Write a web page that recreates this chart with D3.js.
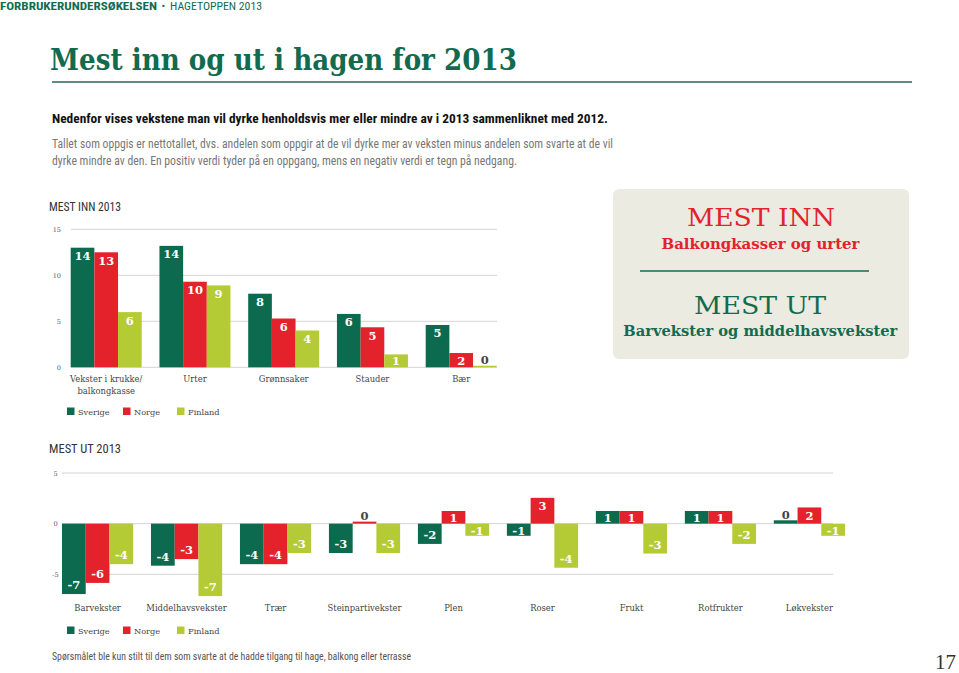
<!DOCTYPE html>
<html>
<head>
<meta charset="utf-8">
<script src="https://cdn.jsdelivr.net/npm/d3@7/dist/d3.min.js"></script>
<style>
html,body{margin:0;padding:0;background:#fff;}
svg{display:block;}
</style>
</head>
<body>
<svg id="chart" width="959" height="673"></svg>
<script>
// ---------- DATA ----------
const seriesNames = ["Sverige", "Norge", "Finland"];

const innCategories = [["Vekster i krukke/", "balkongkasse"], ["Urter"], ["Grønnsaker"], ["Stauder"], ["Bær"]];
const innSverige = [13.0, 13.2, 8.0, 5.8, 4.6];
const innNorge = [12.5, 9.3, 5.3, 4.35, 1.55];
const innFinland = [6.0, 8.9, 4.0, 1.4, 0.17];
const innSverigeLabels = [14, 14, 8, 6, 5];
const innNorgeLabels = [13, 10, 6, 5, 2];
const innFinlandLabels = [6, 9, 4, 1, 0];
const innTicks = [0, 5, 10, 15];

const utCategories = ["Barvekster", "Middelhavsvekster", "Trær", "Steinpartivekster", "Plen", "Roser", "Frukt", "Rotfrukter", "Løkvekster"];
const utSverige = [-6.95, -4.15, -4.0, -2.9, -2.0, -1.2, 1.25, 1.25, 0.33];
const utNorge = [-5.85, -3.5, -4.0, 0.2, 1.25, 2.55, 1.25, 1.25, 1.6];
const utFinland = [-4.0, -7.15, -2.9, -2.9, -1.2, -4.35, -2.95, -2.0, -1.2];
const utSverigeLabels = [-7, -4, -4, -3, -2, -1, 1, 1, 0];
const utNorgeLabels = [-6, -3, -4, 0, 1, 3, 1, 1, 2];
const utFinlandLabels = [-4, -7, -3, -3, -1, -4, -3, -2, -1];
const utTicks = [-5, 0, 5];

// ---------- STYLE ----------
const colors = {Sverige: "#0c6a4e", Norge: "#e3222b", Finland: "#b5cb35"};
const green = "#136b4f";
const sans = "'Liberation Sans Narrow', 'Roboto Condensed', Roboto, 'Liberation Sans', sans-serif";
const serif = "'DejaVu Serif', serif";

const svg = d3.select("#chart");

// ---------- HEADER ----------
const hdr = svg.append("text").attr("x", 0).attr("y", 10).attr("font-family", sans).attr("font-size", 11).attr("fill", green);
hdr.append("tspan").attr("font-weight", "bold").text("FORBRUKERUNDERSØKELSEN").attr("textLength", 157).attr("lengthAdjust", "spacingAndGlyphs");
hdr.append("tspan").attr("x", 159).text(" • ");
hdr.append("tspan").attr("x", 170).text("HAGETOPPEN 2013").attr("textLength", 92).attr("lengthAdjust", "spacingAndGlyphs");

svg.append("text").attr("x", 50).attr("y", 70)
  .attr("font-family", serif).attr("font-weight", "bold").attr("font-size", 29).attr("fill", green)
  .attr("textLength", 467).attr("lengthAdjust", "spacingAndGlyphs")
  .text("Mest inn og ut i hagen for 2013");

svg.append("line").attr("x1", 52).attr("x2", 912).attr("y1", 82).attr("y2", 82)
  .attr("stroke", "#5f8c82").attr("stroke-width", 2);

svg.append("text").attr("x", 52).attr("y", 122.5).attr("font-family", sans).attr("font-weight", "bold")
  .attr("font-size", 13).attr("fill", "#111").attr("textLength", 556).attr("lengthAdjust", "spacingAndGlyphs")
  .text("Nedenfor vises vekstene man vil dyrke henholdsvis mer eller mindre av i 2013 sammenliknet med 2012.");
svg.append("text").attr("x", 52).attr("y", 147.5).attr("font-family", sans)
  .attr("font-size", 13).attr("fill", "#777").attr("textLength", 561).attr("lengthAdjust", "spacingAndGlyphs")
  .text("Tallet som oppgis er nettotallet, dvs. andelen som oppgir at de vil dyrke mer av veksten minus andelen som svarte at de vil");
svg.append("text").attr("x", 52).attr("y", 164.5).attr("font-family", sans)
  .attr("font-size", 13).attr("fill", "#777").attr("textLength", 465).attr("lengthAdjust", "spacingAndGlyphs")
  .text("dyrke mindre av den. En positiv verdi tyder på en oppgang, mens en negativ verdi er tegn på nedgang.");

// ---------- CHART FUNCTION ----------
function drawChart(cfg) {
  const g = svg.append("g");
  g.append("text").attr("x", 49).attr("y", cfg.titleY).attr("font-family", sans)
    .attr("font-size", 12).attr("fill", "#333").attr("textLength", 72).attr("lengthAdjust", "spacingAndGlyphs")
    .text(cfg.title);

  const x0 = d3.scaleBand().domain(d3.range(cfg.categories.length)).range(cfg.xRange).paddingInner(0.2).paddingOuter(0);
  const x1 = d3.scaleBand().domain(seriesNames).range([0, x0.bandwidth()]);
  const y = d3.scaleLinear().domain(cfg.yDomain).range(cfg.yRange);

  // grid
  g.append("g").selectAll("line").data(cfg.ticks).join("line")
    .attr("x1", cfg.gridX[0]).attr("x2", cfg.gridX[1])
    .attr("y1", d => y(d)).attr("y2", d => y(d))
    .attr("stroke", "#d4d4d4").attr("stroke-width", 1);
  g.append("g").selectAll("text").data(cfg.ticks).join("text")
    .attr("x", cfg.tickX).attr("y", d => y(d) + 2.5)
    .attr("text-anchor", cfg.tickAnchor)
    .attr("font-family", serif).attr("font-size", 6.5).attr("fill", "#555")
    .text(d => d);

  const series = seriesNames.map((name, si) => ({name, values: cfg.values[si], labels: cfg.labels[si]}));
  const y0 = y(0);
  series.forEach(s => {
    const sg = g.append("g");
    const data = s.values.map((v, i) => ({i, v, lab: s.labels[i]}));
    sg.selectAll("rect").data(data).join("rect")
      .attr("x", d => x0(d.i) + x1(s.name))
      .attr("width", x1.bandwidth())
      .attr("y", d => Math.min(y(d.v), y0))
      .attr("height", d => Math.abs(y(d.v) - y0))
      .attr("fill", colors[s.name]);
    sg.selectAll("text").data(data).join("text")
      .attr("x", d => x0(d.i) + x1(s.name) + x1.bandwidth() / 2)
      .attr("y", d => {
        if (d.lab === 0) return Math.min(y(d.v), y0) - 1.5;
        if (d.v > 0) return Math.min(y(d.v) + 12.5, y0 - 2);
        return Math.max(y(d.v) - 5, y0 + 11.5);
      })
      .attr("text-anchor", "middle")
      .attr("font-family", serif).attr("font-weight", "bold").attr("font-size", 11.5)
      .attr("fill", d => d.lab === 0 ? "#444" : "#fff")
      .text(d => d.lab);
  });

  // category labels
  const cl = g.append("g").selectAll("text").data(cfg.categories).join("text")
    .attr("text-anchor", "middle")
    .attr("font-family", serif).attr("font-size", 8.4).attr("fill", "#444");
  cl.each(function(d, i) {
    const lines = Array.isArray(d) ? d : [d];
    const t = d3.select(this);
    lines.forEach((ln, li) => {
      t.append("tspan").attr("x", x0(i) + x0.bandwidth() / 2).attr("y", cfg.catY + li * 11.5).text(ln);
    });
  });

  // legend
  const lg = g.append("g");
  const legX = [67, 123, 177];
  seriesNames.forEach((n, i) => {
    lg.append("rect").attr("x", legX[i]).attr("y", cfg.legY - 7.5).attr("width", 7.5).attr("height", 7.5).attr("fill", colors[n]);
    lg.append("text").attr("x", legX[i] + 11).attr("y", cfg.legY).attr("font-family", serif)
      .attr("font-size", 8.2).attr("fill", "#444").text(n);
  });
}

drawChart({
  title: "MEST INN 2013", titleY: 211,
  categories: innCategories,
  values: [innSverige, innNorge, innFinland],
  labels: [innSverigeLabels, innNorgeLabels, innFinlandLabels],
  xRange: [70.7, 496.7], yDomain: [0, 15], yRange: [367.3, 229.3],
  ticks: innTicks, gridX: [71, 497], tickX: 61, tickAnchor: "end",
  catY: 382, legY: 415
});

drawChart({
  title: "MEST UT 2013", titleY: 453,
  categories: utCategories,
  values: [utSverige, utNorge, utFinland],
  labels: [utSverigeLabels, utNorgeLabels, utFinlandLabels],
  xRange: [62, 845], yDomain: [-5, 5], yRange: [574.3, 473],
  ticks: utTicks, gridX: [62, 833], tickX: 55.5, tickAnchor: "middle",
  catY: 611, legY: 634
});

// ---------- SIDE BOX ----------
const box = svg.append("g");
box.append("rect").attr("x", 613).attr("y", 189).attr("width", 296).attr("height", 170).attr("rx", 6)
  .attr("fill", "#ebebe2");
box.append("text").attr("x", 761).attr("y", 226).attr("text-anchor", "middle")
  .attr("font-family", serif).attr("font-size", 24).attr("fill", "#e3222b")
  .attr("textLength", 148).attr("lengthAdjust", "spacingAndGlyphs").text("MEST INN");
box.append("text").attr("x", 760.5).attr("y", 248.5).attr("text-anchor", "middle")
  .attr("font-family", serif).attr("font-weight", "bold").attr("font-size", 14.3).attr("fill", "#e3222b")
  .attr("textLength", 198).attr("lengthAdjust", "spacingAndGlyphs").text("Balkongkasser og urter");
box.append("line").attr("x1", 640).attr("x2", 869).attr("y1", 271).attr("y2", 271)
  .attr("stroke", green).attr("stroke-width", 1.3);
box.append("text").attr("x", 760).attr("y", 314).attr("text-anchor", "middle")
  .attr("font-family", serif).attr("font-size", 24).attr("fill", green)
  .attr("textLength", 132).attr("lengthAdjust", "spacingAndGlyphs").text("MEST UT");
box.append("text").attr("x", 760.3).attr("y", 335.5).attr("text-anchor", "middle")
  .attr("font-family", serif).attr("font-weight", "bold").attr("font-size", 14.3).attr("fill", green)
  .attr("textLength", 274).attr("lengthAdjust", "spacingAndGlyphs").text("Barvekster og middelhavsvekster");

// ---------- FOOTER ----------
svg.append("text").attr("x", 52).attr("y", 660).attr("font-family", sans).attr("font-size", 10.5).attr("fill", "#555")
  .attr("textLength", 359).attr("lengthAdjust", "spacingAndGlyphs")
  .text("Spørsmålet ble kun stilt til dem som svarte at de hadde tilgang til hage, balkong eller terrasse");
svg.append("text").attr("x", 956).attr("y", 669).attr("text-anchor", "end").attr("font-family", "'Liberation Serif', serif")
  .attr("font-size", 21).attr("fill", "#333").text("17");
</script>
</body>
</html>
